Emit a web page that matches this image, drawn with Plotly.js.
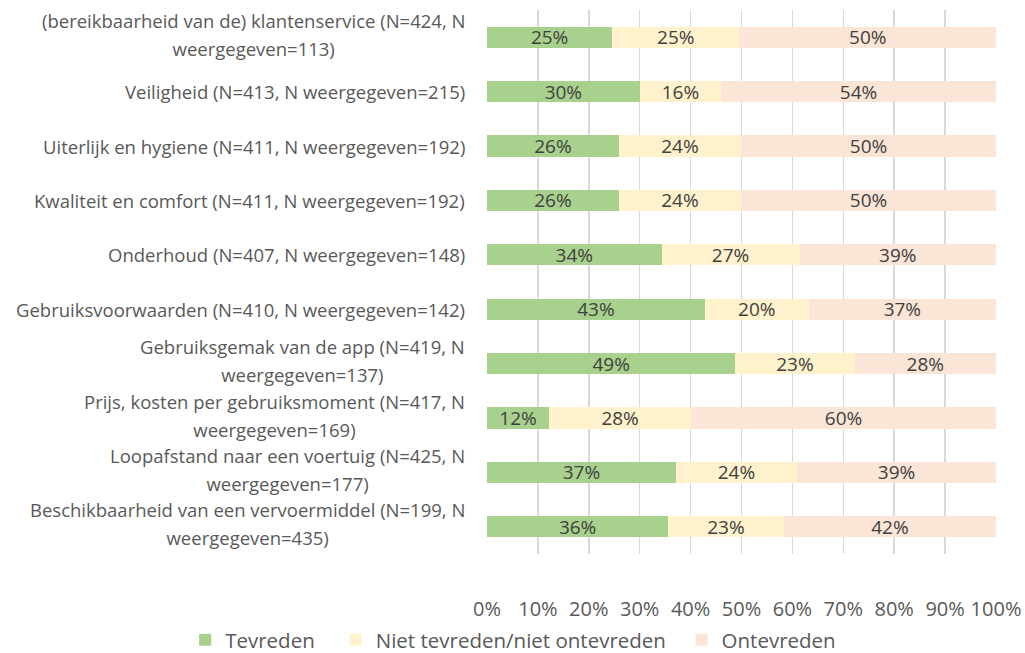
<!DOCTYPE html>
<html>
<head>
<meta charset="utf-8">
<script src="https://cdn.plot.ly/plotly-3.0.1.min.js"></script>
<style>html,body{margin:0;padding:0;background:#fff;}#chart{width:1025px;height:653px;}</style>
</head>
<body>
<div id="chart"></div>
<script>
var categories = [
  "(bereikbaarheid van de) klantenservice (N=424, N<br>weergegeven=113)",
  "Veiligheid (N=413, N weergegeven=215)",
  "Uiterlijk en hygiene (N=411, N weergegeven=192)",
  "Kwaliteit en comfort (N=411, N weergegeven=192)",
  "Onderhoud (N=407, N weergegeven=148)",
  "Gebruiksvoorwaarden (N=410, N weergegeven=142)",
  "Gebruiksgemak van de app (N=419, N<br>weergegeven=137)",
  "Prijs, kosten per gebruiksmoment (N=417, N<br>weergegeven=169)",
  "Loopafstand naar een voertuig (N=425, N<br>weergegeven=177)",
  "Beschikbaarheid van een vervoermiddel (N=199, N<br>weergegeven=435)"
];
var tevreden  = [0.246, 0.300, 0.259, 0.259, 0.343, 0.428, 0.488, 0.122, 0.371, 0.356];
var neutraal  = [0.250, 0.160, 0.240, 0.240, 0.271, 0.204, 0.234, 0.279, 0.238, 0.227];
var ontevreden= [0.504, 0.540, 0.501, 0.501, 0.386, 0.368, 0.278, 0.599, 0.391, 0.417];
var seriesNames = ["Tevreden", "Niet tevreden/niet ontevreden", "Ontevreden"];
var seriesColors = ["#A9D18E", "#FFF2CC", "#FBE5D6"];
var xTickVals = [0,0.1,0.2,0.3,0.4,0.5,0.6,0.7,0.8,0.9,1.0];
var xTickText = ["0%","10%","20%","30%","40%","50%","60%","70%","80%","90%","100%"];

var FONT = "Open Sans, sans-serif";
var NB = "\u00A0";
var legendPad = [NB + NB + NB, NB + NB, ""];
var idx = categories.map(function(_, i){ return i; });
var values = [tevreden, neutraal, ontevreden];
var traces = values.map(function(v, k){
  return {
    type: "bar", orientation: "h",
    name: seriesNames[k] + legendPad[k],
    x: v, y: idx,
    marker: {color: seriesColors[k], line: {width: 0}},
    text: v.map(function(d){ return Math.round(d*100) + "%"; }),
    textposition: "inside", insidetextanchor: "middle",
    constraintext: "none",
    textfont: {family: FONT, size: 19, color: "#404040"},
    hoverinfo: "skip"
  };
});

var LABEL_SIZE = 18.5;
var annotations = categories.map(function(c, i){
  var parts = c.split("<br>");
  var txt = parts.map(function(p){ return '<span style="font-size:' + LABEL_SIZE + 'px">' + p + '</span>'; }).join("<br>");
  return {
    xref: "paper", yref: "y", x: 0, y: i,
    xanchor: "right", yanchor: "middle", xshift: -20,
    yshift: parts.length > 1 ? 3 : 0,
    text: txt, showarrow: false, align: "center",
    font: {family: FONT, size: 21.5, color: "#595959"}
  };
});

var layout = {
  width: 1025, height: 653,
  margin: {l: 487, r: 29, t: 10, b: 99, pad: 0, autoexpand: false},
  paper_bgcolor: "#ffffff", plot_bgcolor: "#ffffff",
  barmode: "stack", bargap: 0.61,
  showlegend: true,
  legend: {
    orientation: "h", xref: "paper", yref: "paper",
    x: -0.593, xanchor: "left", y: -0.158, yanchor: "middle",
    font: {family: FONT, size: 20.5, color: "#595959"},
    traceorder: "normal", itemwidth: 30
  },
  xaxis: {
    range: [0, 1], tickvals: xTickVals, ticktext: xTickText,
    showgrid: true, gridcolor: "#D9D9D9", gridwidth: 1.5,
    zeroline: false, showline: false, automargin: false,
    ticks: "outside", ticklen: 37, tickcolor: "rgba(0,0,0,0)",
    tickfont: {family: FONT, size: 20, color: "#595959"},
    fixedrange: true
  },
  yaxis: {
    range: [9.5, -0.5], tickvals: idx, showticklabels: false, automargin: false,
    showgrid: false, zeroline: false, showline: false, fixedrange: true
  },
  annotations: annotations
};

Plotly.newPlot("chart", traces, layout, {displayModeBar: false, staticPlot: true});
</script>
</body>
</html>
